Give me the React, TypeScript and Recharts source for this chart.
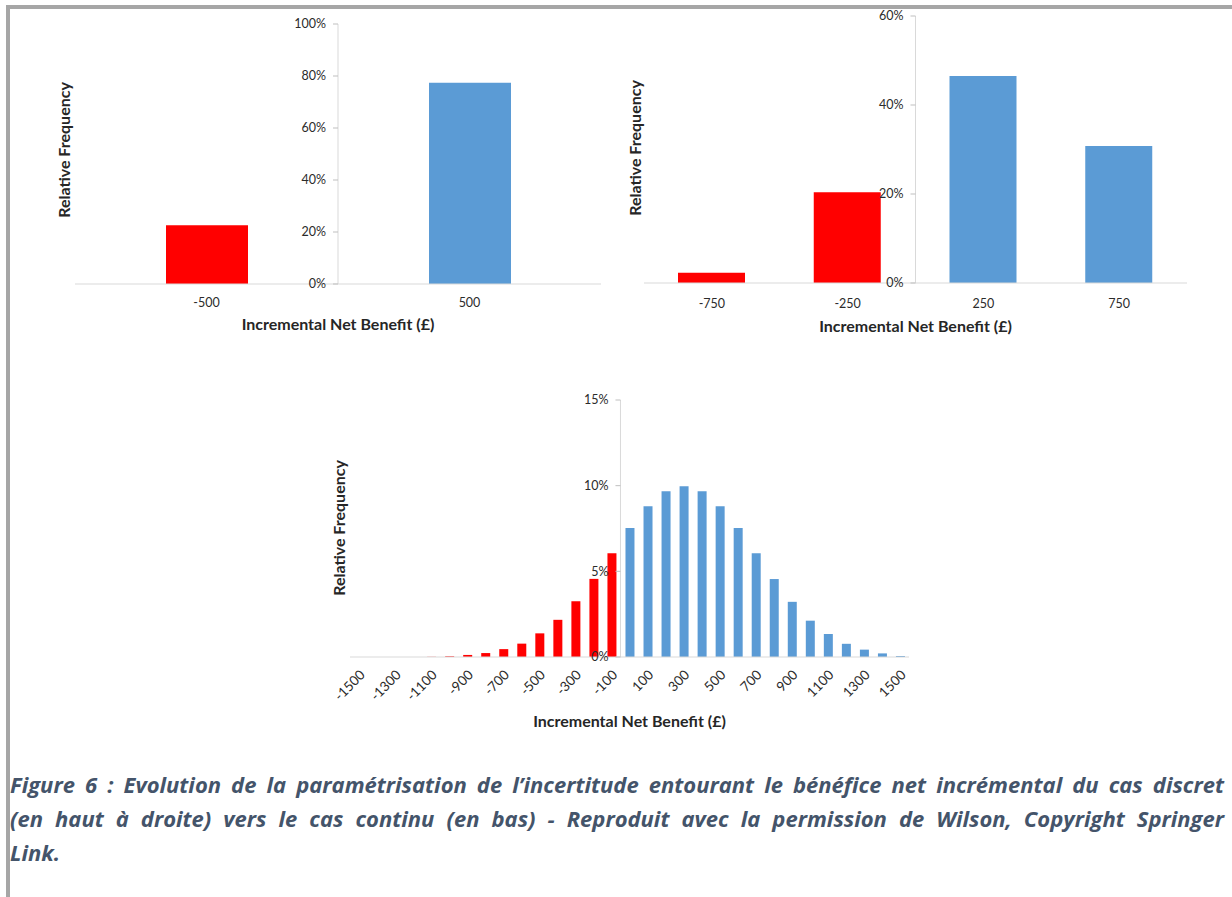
import React from 'react'
import { BarChart, Bar, XAxis, YAxis, Cell, ReferenceLine, ReferenceDot } from 'recharts'

const RED = '#FF0000'
const BLUE = '#5B9BD5'
const AXIS = '#D9D9D9'
const TEXT = '#2B2B2B'
const FONT = 'Lato, "Open Sans", sans-serif'

// top left: discrete case, two bins
const binsA = [-500, 500]
const freqA = [22.6, 77.4]
const yTicksA = [0, 20, 40, 60, 80, 100]

// top right: four bins
const binsB = [-750, -250, 250, 750]
const freqB = [2.3, 20.4, 46.5, 30.8]
const yTicksB = [0, 20, 40, 60]

// bottom: continuous case, bins of 100
const binsC = [
  -1500, -1400, -1300, -1200, -1100, -1000, -900, -800, -700, -600, -500, -400, -300, -200, -100,
  0, 100, 200, 300, 400, 500, 600, 700, 800, 900, 1000, 1100, 1200, 1300, 1400, 1500,
]
const freqC = [
  0, 0, 0, 0, 0.01, 0.04, 0.12, 0.23, 0.46, 0.78, 1.38, 2.17, 3.25, 4.56, 6.05,
  7.53, 8.8, 9.67, 9.97, 9.67, 8.8, 7.53, 6.05, 4.55, 3.22, 2.12, 1.34, 0.77, 0.43, 0.21, 0.06,
]
const xLabelsC = [-1500, -1300, -1100, -900, -700, -500, -300, -100, 100, 300, 500, 700, 900, 1100, 1300, 1500]
const yTicksC = [0, 5, 10, 15]

const xTitle = 'Incremental Net Benefit (£)'
const yTitle = 'Relative Frequency'

function YTickMark({ cx, cy, text }: { cx: number; cy: number; text: string }) {
  return (
    <g>
      <line x1={cx - 5} x2={cx} y1={cy} y2={cy} stroke="#BFBFBF" />
      <text x={cx - 12} y={cy} dy="0.35em" textAnchor="end" fontSize={12.5} fill={TEXT} fontFamily={FONT}>
        {text}
      </text>
    </g>
  )
}

interface HistProps {
  bins: number[]
  freq: number[]
  xTicks: number[]
  yTicks: number[]
  xDomain: [number, number]
  yMax: number
  axisAt: number
  barSize: number
  width: number
  height: number
  margin: { top: number; right: number; bottom: number; left: number }
  xAxisHeight: number
  tickSize: number
  titleOffset: number
  rotate?: boolean
}

function Histogram(p: HistProps) {
  const data = p.bins.map((b, i) => ({ bin: b, freq: p.freq[i] }))
  return (
    <BarChart width={p.width} height={p.height} data={data} margin={p.margin}>
      <XAxis
        dataKey="bin"
        type="number"
        domain={p.xDomain}
        allowDataOverflow
        ticks={p.xTicks}
        interval={0}
        tickLine={false}
        tickSize={p.tickSize}
        tickMargin={2}
        axisLine={{ stroke: AXIS }}
        height={p.xAxisHeight}
        tick={
          p.rotate
            ? { fontSize: 13.5, fill: TEXT, fontFamily: FONT, angle: -45, textAnchor: 'end' }
            : { fontSize: 12.5, fill: TEXT, fontFamily: FONT }
        }
        label={{
          value: xTitle,
          position: 'insideBottom',
          offset: p.titleOffset,
          fontSize: 16,
          fontWeight: 700,
          fill: '#262626',
          fontFamily: FONT,
        }}
      />
      <YAxis hide width={0} domain={[0, p.yMax]} allowDataOverflow />
      <Bar dataKey="freq" barSize={p.barSize} isAnimationActive={false}>
        {data.map((d) => (
          <Cell key={d.bin} fill={d.bin < 0 ? RED : BLUE} />
        ))}
      </Bar>
      <ReferenceLine x={p.axisAt} stroke={AXIS} strokeWidth={1} />
      {p.yTicks.map((t) => (
        <ReferenceDot
          key={t}
          x={p.axisAt}
          y={t}
          r={0}
          ifOverflow="visible"
          shape={(s: any) => <YTickMark cx={s.cx} cy={s.cy} text={`${t}%`} />}
        />
      ))}
    </BarChart>
  )
}

function YTitle({ x, y }: { x: number; y: number }) {
  return (
    <div
      style={{
        position: 'absolute',
        left: x,
        top: y,
        transform: 'translate(-50%, -50%) rotate(-90deg)',
        whiteSpace: 'nowrap',
        fontFamily: FONT,
        fontWeight: 700,
        fontSize: 16,
        color: '#262626',
      }}
    >
      {yTitle}
    </div>
  )
}

const captionLines = [
  'Figure 6 : Evolution de la paramétrisation de l’incertitude entourant le bénéfice net incrémental du cas discret',
  '(en haut à droite) vers le cas continu (en bas) - Reproduit avec la permission de Wilson, Copyright Springer',
  'Link.',
]

export default function App() {
  return (
    <div
      style={{
        position: 'absolute',
        left: 0,
        top: 0,
        width: 1232,
        height: 897,
        background: '#fff',
        overflow: 'hidden',
      }}
    >
      <div
        style={{
          position: 'absolute',
          left: 6,
          top: 5,
          right: 0,
          bottom: 0,
          borderTop: '4px solid #A6A6A6',
          borderLeft: '4px solid #A6A6A6',
        }}
      />
      <div style={{ position: 'absolute', left: 0, top: 0 }}>
        <Histogram
          bins={binsA}
          freq={freqA}
          xTicks={binsA}
          yTicks={yTicksA}
          xDomain={[-1000, 1000]}
          yMax={100}
          axisAt={0}
          barSize={82}
          width={620}
          height={340}
          margin={{ top: 24, right: 19, bottom: 0, left: 75 }}
          xAxisHeight={56}
          tickSize={12}
          titleOffset={10}
        />
      </div>
      <YTitle x={63} y={150} />
      <div style={{ position: 'absolute', left: 600, top: 0 }}>
        <Histogram
          bins={binsB}
          freq={freqB}
          xTicks={binsB}
          yTicks={yTicksB}
          xDomain={[-1000, 1000]}
          yMax={60}
          axisAt={0}
          barSize={67}
          width={632}
          height={345}
          margin={{ top: 16, right: 45, bottom: 0, left: 44 }}
          xAxisHeight={62}
          tickSize={14}
          titleOffset={13}
        />
      </div>
      <YTitle x={634} y={148} />
      <div style={{ position: 'absolute', left: 320, top: 380 }}>
        <Histogram
          bins={binsC}
          freq={freqC}
          xTicks={xLabelsC}
          yTicks={yTicksC}
          xDomain={[-1550, 1550]}
          yMax={15}
          axisAt={-50}
          barSize={9}
          width={620}
          height={360}
          margin={{ top: 20, right: 31, bottom: 0, left: 30 }}
          xAxisHeight={83}
          tickSize={10}
          titleOffset={13}
          rotate
        />
      </div>
      <YTitle x={338} y={528} />
      <div
        style={{
          position: 'absolute',
          left: 10,
          top: 767,
          width: 1214,
          fontFamily: '"Open Sans", sans-serif',
          fontWeight: 700,
          fontStyle: 'italic',
          fontSize: 22,
          lineHeight: '34px',
          color: '#44546A',
        }}
      >
        {captionLines.map((l, i) => (
          <div
            key={i}
            style={{
              textAlign: 'justify',
              textAlignLast: i < captionLines.length - 1 ? 'justify' : 'left',
              whiteSpace: 'nowrap',
            }}
          >
            {l}
          </div>
        ))}
      </div>
    </div>
  )
}
